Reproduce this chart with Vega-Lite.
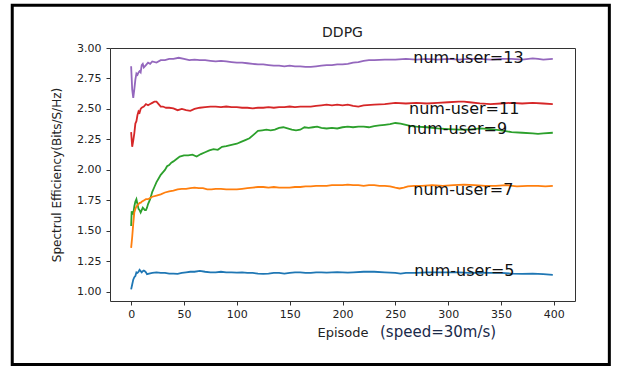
{
  "$schema": "https://vega.github.io/schema/vega-lite/v6.json",
  "width": 465,
  "height": 253,
  "autosize": {"type": "none"},
  "padding": {"left": 110, "top": 48, "right": 42, "bottom": 69},
  "background": "white",
  "config": {
    "view": {"stroke": "#333", "strokeWidth": 1},
    "font": "DejaVu Sans",
    "axis": {"grid": false, "domain": false, "tickColor": "#333", "tickSize": 4, "labelColor": "#222", "labelFontSize": 11, "labelFont": "DejaVu Sans", "titleFont": "DejaVu Sans", "titleFontWeight": "normal", "titleColor": "#222", "labelPadding": 3}
  },
  "datasets": {
    "lines": [
      {"e":0,"v":2.85,"s":"13"},{"e":1,"v":2.66,"s":"13"},{"e":2,"v":2.59,"s":"13"},{"e":3,"v":2.66,"s":"13"},{"e":4,"v":2.74,"s":"13"},{"e":5,"v":2.79,"s":"13"},{"e":6,"v":2.78,"s":"13"},{"e":7,"v":2.8,"s":"13"},{"e":8,"v":2.81,"s":"13"},{"e":9,"v":2.8,"s":"13"},{"e":10,"v":2.86,"s":"13"},{"e":11,"v":2.87,"s":"13"},{"e":12,"v":2.84,"s":"13"},{"e":14,"v":2.86,"s":"13"},{"e":16,"v":2.88,"s":"13"},{"e":18,"v":2.87,"s":"13"},{"e":20,"v":2.89,"s":"13"},{"e":24,"v":2.88,"s":"13"},{"e":28,"v":2.9,"s":"13"},{"e":32,"v":2.9,"s":"13"},{"e":36,"v":2.91,"s":"13"},{"e":40,"v":2.91,"s":"13"},{"e":45,"v":2.92,"s":"13"},{"e":50,"v":2.91,"s":"13"},{"e":55,"v":2.9,"s":"13"},{"e":60,"v":2.905,"s":"13"},{"e":65,"v":2.9,"s":"13"},{"e":70,"v":2.9,"s":"13"},{"e":75,"v":2.895,"s":"13"},{"e":80,"v":2.89,"s":"13"},{"e":85,"v":2.895,"s":"13"},{"e":90,"v":2.89,"s":"13"},{"e":95,"v":2.885,"s":"13"},{"e":100,"v":2.88,"s":"13"},{"e":105,"v":2.88,"s":"13"},{"e":110,"v":2.875,"s":"13"},{"e":115,"v":2.87,"s":"13"},{"e":120,"v":2.865,"s":"13"},{"e":125,"v":2.865,"s":"13"},{"e":130,"v":2.86,"s":"13"},{"e":135,"v":2.855,"s":"13"},{"e":140,"v":2.855,"s":"13"},{"e":145,"v":2.85,"s":"13"},{"e":150,"v":2.855,"s":"13"},{"e":155,"v":2.85,"s":"13"},{"e":160,"v":2.85,"s":"13"},{"e":165,"v":2.845,"s":"13"},{"e":170,"v":2.845,"s":"13"},{"e":175,"v":2.85,"s":"13"},{"e":180,"v":2.855,"s":"13"},{"e":185,"v":2.86,"s":"13"},{"e":190,"v":2.86,"s":"13"},{"e":195,"v":2.865,"s":"13"},{"e":200,"v":2.865,"s":"13"},{"e":205,"v":2.87,"s":"13"},{"e":210,"v":2.88,"s":"13"},{"e":215,"v":2.885,"s":"13"},{"e":220,"v":2.895,"s":"13"},{"e":225,"v":2.9,"s":"13"},{"e":230,"v":2.9,"s":"13"},{"e":240,"v":2.905,"s":"13"},{"e":250,"v":2.905,"s":"13"},{"e":260,"v":2.91,"s":"13"},{"e":270,"v":2.905,"s":"13"},{"e":280,"v":2.91,"s":"13"},{"e":290,"v":2.905,"s":"13"},{"e":300,"v":2.91,"s":"13"},{"e":310,"v":2.905,"s":"13"},{"e":320,"v":2.91,"s":"13"},{"e":330,"v":2.91,"s":"13"},{"e":340,"v":2.905,"s":"13"},{"e":350,"v":2.91,"s":"13"},{"e":360,"v":2.91,"s":"13"},{"e":370,"v":2.905,"s":"13"},{"e":380,"v":2.915,"s":"13"},{"e":385,"v":2.91,"s":"13"},{"e":390,"v":2.905,"s":"13"},{"e":399,"v":2.91,"s":"13"},

      {"e":0,"v":2.31,"s":"11"},{"e":1,"v":2.19,"s":"11"},{"e":2,"v":2.24,"s":"11"},{"e":3,"v":2.3,"s":"11"},{"e":4,"v":2.38,"s":"11"},{"e":5,"v":2.4,"s":"11"},{"e":6,"v":2.45,"s":"11"},{"e":7,"v":2.48,"s":"11"},{"e":8,"v":2.47,"s":"11"},{"e":9,"v":2.5,"s":"11"},{"e":10,"v":2.51,"s":"11"},{"e":12,"v":2.52,"s":"11"},{"e":14,"v":2.54,"s":"11"},{"e":16,"v":2.53,"s":"11"},{"e":18,"v":2.54,"s":"11"},{"e":20,"v":2.55,"s":"11"},{"e":22,"v":2.56,"s":"11"},{"e":24,"v":2.56,"s":"11"},{"e":26,"v":2.54,"s":"11"},{"e":28,"v":2.52,"s":"11"},{"e":30,"v":2.52,"s":"11"},{"e":33,"v":2.51,"s":"11"},{"e":36,"v":2.51,"s":"11"},{"e":40,"v":2.505,"s":"11"},{"e":44,"v":2.49,"s":"11"},{"e":48,"v":2.5,"s":"11"},{"e":52,"v":2.49,"s":"11"},{"e":56,"v":2.485,"s":"11"},{"e":60,"v":2.5,"s":"11"},{"e":65,"v":2.51,"s":"11"},{"e":70,"v":2.515,"s":"11"},{"e":75,"v":2.52,"s":"11"},{"e":80,"v":2.52,"s":"11"},{"e":85,"v":2.515,"s":"11"},{"e":90,"v":2.52,"s":"11"},{"e":95,"v":2.515,"s":"11"},{"e":100,"v":2.515,"s":"11"},{"e":105,"v":2.51,"s":"11"},{"e":110,"v":2.51,"s":"11"},{"e":115,"v":2.505,"s":"11"},{"e":120,"v":2.51,"s":"11"},{"e":125,"v":2.51,"s":"11"},{"e":130,"v":2.515,"s":"11"},{"e":135,"v":2.51,"s":"11"},{"e":140,"v":2.515,"s":"11"},{"e":145,"v":2.515,"s":"11"},{"e":150,"v":2.52,"s":"11"},{"e":155,"v":2.515,"s":"11"},{"e":160,"v":2.52,"s":"11"},{"e":165,"v":2.52,"s":"11"},{"e":170,"v":2.52,"s":"11"},{"e":175,"v":2.525,"s":"11"},{"e":180,"v":2.53,"s":"11"},{"e":185,"v":2.535,"s":"11"},{"e":190,"v":2.53,"s":"11"},{"e":195,"v":2.535,"s":"11"},{"e":200,"v":2.53,"s":"11"},{"e":205,"v":2.535,"s":"11"},{"e":210,"v":2.525,"s":"11"},{"e":215,"v":2.52,"s":"11"},{"e":220,"v":2.53,"s":"11"},{"e":230,"v":2.535,"s":"11"},{"e":240,"v":2.54,"s":"11"},{"e":250,"v":2.55,"s":"11"},{"e":260,"v":2.545,"s":"11"},{"e":270,"v":2.55,"s":"11"},{"e":280,"v":2.545,"s":"11"},{"e":290,"v":2.55,"s":"11"},{"e":300,"v":2.555,"s":"11"},{"e":310,"v":2.56,"s":"11"},{"e":315,"v":2.56,"s":"11"},{"e":320,"v":2.555,"s":"11"},{"e":330,"v":2.545,"s":"11"},{"e":340,"v":2.54,"s":"11"},{"e":350,"v":2.545,"s":"11"},{"e":360,"v":2.55,"s":"11"},{"e":370,"v":2.545,"s":"11"},{"e":380,"v":2.55,"s":"11"},{"e":390,"v":2.545,"s":"11"},{"e":399,"v":2.54,"s":"11"},

      {"e":0,"v":1.54,"s":"9"},{"e":0.5,"v":1.66,"s":"9"},{"e":1,"v":1.65,"s":"9"},{"e":2,"v":1.64,"s":"9"},{"e":3,"v":1.7,"s":"9"},{"e":4,"v":1.74,"s":"9"},{"e":5,"v":1.76,"s":"9"},{"e":6,"v":1.72,"s":"9"},{"e":7,"v":1.68,"s":"9"},{"e":8,"v":1.67,"s":"9"},{"e":9,"v":1.65,"s":"9"},{"e":10,"v":1.67,"s":"9"},{"e":11,"v":1.69,"s":"9"},{"e":12,"v":1.68,"s":"9"},{"e":13,"v":1.67,"s":"9"},{"e":14,"v":1.67,"s":"9"},{"e":15,"v":1.69,"s":"9"},{"e":16,"v":1.72,"s":"9"},{"e":18,"v":1.76,"s":"9"},{"e":20,"v":1.82,"s":"9"},{"e":22,"v":1.86,"s":"9"},{"e":24,"v":1.9,"s":"9"},{"e":26,"v":1.93,"s":"9"},{"e":28,"v":1.96,"s":"9"},{"e":30,"v":1.98,"s":"9"},{"e":32,"v":2.0,"s":"9"},{"e":34,"v":2.03,"s":"9"},{"e":36,"v":2.04,"s":"9"},{"e":38,"v":2.06,"s":"9"},{"e":40,"v":2.07,"s":"9"},{"e":43,"v":2.09,"s":"9"},{"e":46,"v":2.11,"s":"9"},{"e":50,"v":2.12,"s":"9"},{"e":54,"v":2.12,"s":"9"},{"e":58,"v":2.125,"s":"9"},{"e":62,"v":2.11,"s":"9"},{"e":66,"v":2.13,"s":"9"},{"e":70,"v":2.145,"s":"9"},{"e":74,"v":2.16,"s":"9"},{"e":78,"v":2.17,"s":"9"},{"e":82,"v":2.165,"s":"9"},{"e":86,"v":2.19,"s":"9"},{"e":90,"v":2.195,"s":"9"},{"e":95,"v":2.205,"s":"9"},{"e":100,"v":2.215,"s":"9"},{"e":104,"v":2.23,"s":"9"},{"e":108,"v":2.245,"s":"9"},{"e":112,"v":2.26,"s":"9"},{"e":116,"v":2.29,"s":"9"},{"e":120,"v":2.32,"s":"9"},{"e":124,"v":2.325,"s":"9"},{"e":128,"v":2.33,"s":"9"},{"e":132,"v":2.325,"s":"9"},{"e":136,"v":2.33,"s":"9"},{"e":140,"v":2.345,"s":"9"},{"e":144,"v":2.35,"s":"9"},{"e":148,"v":2.34,"s":"9"},{"e":152,"v":2.33,"s":"9"},{"e":156,"v":2.325,"s":"9"},{"e":160,"v":2.33,"s":"9"},{"e":164,"v":2.35,"s":"9"},{"e":168,"v":2.345,"s":"9"},{"e":172,"v":2.35,"s":"9"},{"e":176,"v":2.355,"s":"9"},{"e":180,"v":2.345,"s":"9"},{"e":185,"v":2.34,"s":"9"},{"e":190,"v":2.345,"s":"9"},{"e":195,"v":2.34,"s":"9"},{"e":200,"v":2.35,"s":"9"},{"e":205,"v":2.355,"s":"9"},{"e":210,"v":2.35,"s":"9"},{"e":215,"v":2.355,"s":"9"},{"e":220,"v":2.355,"s":"9"},{"e":225,"v":2.35,"s":"9"},{"e":230,"v":2.36,"s":"9"},{"e":235,"v":2.365,"s":"9"},{"e":240,"v":2.37,"s":"9"},{"e":245,"v":2.375,"s":"9"},{"e":250,"v":2.385,"s":"9"},{"e":255,"v":2.38,"s":"9"},{"e":260,"v":2.37,"s":"9"},{"e":265,"v":2.36,"s":"9"},{"e":270,"v":2.355,"s":"9"},{"e":280,"v":2.35,"s":"9"},{"e":290,"v":2.34,"s":"9"},{"e":300,"v":2.335,"s":"9"},{"e":310,"v":2.33,"s":"9"},{"e":320,"v":2.33,"s":"9"},{"e":330,"v":2.34,"s":"9"},{"e":340,"v":2.335,"s":"9"},{"e":350,"v":2.325,"s":"9"},{"e":360,"v":2.31,"s":"9"},{"e":370,"v":2.305,"s":"9"},{"e":380,"v":2.3,"s":"9"},{"e":385,"v":2.295,"s":"9"},{"e":390,"v":2.3,"s":"9"},{"e":399,"v":2.305,"s":"9"},

      {"e":0,"v":1.36,"s":"7"},{"e":1,"v":1.45,"s":"7"},{"e":2,"v":1.56,"s":"7"},{"e":3,"v":1.65,"s":"7"},{"e":4,"v":1.68,"s":"7"},{"e":5,"v":1.7,"s":"7"},{"e":6,"v":1.71,"s":"7"},{"e":7,"v":1.72,"s":"7"},{"e":8,"v":1.73,"s":"7"},{"e":9,"v":1.73,"s":"7"},{"e":10,"v":1.74,"s":"7"},{"e":12,"v":1.75,"s":"7"},{"e":14,"v":1.76,"s":"7"},{"e":16,"v":1.76,"s":"7"},{"e":18,"v":1.77,"s":"7"},{"e":20,"v":1.78,"s":"7"},{"e":24,"v":1.79,"s":"7"},{"e":28,"v":1.8,"s":"7"},{"e":32,"v":1.815,"s":"7"},{"e":36,"v":1.825,"s":"7"},{"e":40,"v":1.83,"s":"7"},{"e":44,"v":1.84,"s":"7"},{"e":48,"v":1.845,"s":"7"},{"e":52,"v":1.845,"s":"7"},{"e":56,"v":1.85,"s":"7"},{"e":60,"v":1.855,"s":"7"},{"e":64,"v":1.85,"s":"7"},{"e":68,"v":1.85,"s":"7"},{"e":72,"v":1.84,"s":"7"},{"e":76,"v":1.84,"s":"7"},{"e":80,"v":1.845,"s":"7"},{"e":85,"v":1.845,"s":"7"},{"e":90,"v":1.84,"s":"7"},{"e":95,"v":1.84,"s":"7"},{"e":100,"v":1.84,"s":"7"},{"e":105,"v":1.845,"s":"7"},{"e":110,"v":1.85,"s":"7"},{"e":115,"v":1.855,"s":"7"},{"e":120,"v":1.86,"s":"7"},{"e":125,"v":1.86,"s":"7"},{"e":130,"v":1.855,"s":"7"},{"e":135,"v":1.86,"s":"7"},{"e":140,"v":1.855,"s":"7"},{"e":145,"v":1.855,"s":"7"},{"e":150,"v":1.855,"s":"7"},{"e":155,"v":1.86,"s":"7"},{"e":160,"v":1.86,"s":"7"},{"e":165,"v":1.865,"s":"7"},{"e":170,"v":1.865,"s":"7"},{"e":175,"v":1.87,"s":"7"},{"e":180,"v":1.87,"s":"7"},{"e":185,"v":1.87,"s":"7"},{"e":190,"v":1.875,"s":"7"},{"e":195,"v":1.875,"s":"7"},{"e":200,"v":1.875,"s":"7"},{"e":205,"v":1.88,"s":"7"},{"e":210,"v":1.875,"s":"7"},{"e":215,"v":1.875,"s":"7"},{"e":220,"v":1.87,"s":"7"},{"e":225,"v":1.875,"s":"7"},{"e":230,"v":1.875,"s":"7"},{"e":235,"v":1.87,"s":"7"},{"e":240,"v":1.87,"s":"7"},{"e":245,"v":1.865,"s":"7"},{"e":250,"v":1.855,"s":"7"},{"e":254,"v":1.848,"s":"7"},{"e":258,"v":1.855,"s":"7"},{"e":262,"v":1.865,"s":"7"},{"e":268,"v":1.87,"s":"7"},{"e":275,"v":1.87,"s":"7"},{"e":285,"v":1.875,"s":"7"},{"e":295,"v":1.87,"s":"7"},{"e":305,"v":1.875,"s":"7"},{"e":315,"v":1.88,"s":"7"},{"e":325,"v":1.875,"s":"7"},{"e":335,"v":1.87,"s":"7"},{"e":345,"v":1.87,"s":"7"},{"e":355,"v":1.875,"s":"7"},{"e":365,"v":1.865,"s":"7"},{"e":375,"v":1.87,"s":"7"},{"e":385,"v":1.87,"s":"7"},{"e":392,"v":1.865,"s":"7"},{"e":399,"v":1.87,"s":"7"},

      {"e":0,"v":1.02,"s":"5"},{"e":1,"v":1.06,"s":"5"},{"e":2,"v":1.1,"s":"5"},{"e":3,"v":1.12,"s":"5"},{"e":4,"v":1.13,"s":"5"},{"e":5,"v":1.16,"s":"5"},{"e":6,"v":1.155,"s":"5"},{"e":7,"v":1.165,"s":"5"},{"e":8,"v":1.18,"s":"5"},{"e":9,"v":1.17,"s":"5"},{"e":10,"v":1.16,"s":"5"},{"e":11,"v":1.17,"s":"5"},{"e":12,"v":1.175,"s":"5"},{"e":13,"v":1.17,"s":"5"},{"e":14,"v":1.16,"s":"5"},{"e":15,"v":1.145,"s":"5"},{"e":17,"v":1.15,"s":"5"},{"e":20,"v":1.155,"s":"5"},{"e":24,"v":1.16,"s":"5"},{"e":28,"v":1.155,"s":"5"},{"e":32,"v":1.155,"s":"5"},{"e":36,"v":1.15,"s":"5"},{"e":40,"v":1.15,"s":"5"},{"e":44,"v":1.148,"s":"5"},{"e":48,"v":1.155,"s":"5"},{"e":52,"v":1.16,"s":"5"},{"e":56,"v":1.165,"s":"5"},{"e":60,"v":1.165,"s":"5"},{"e":65,"v":1.172,"s":"5"},{"e":70,"v":1.165,"s":"5"},{"e":75,"v":1.16,"s":"5"},{"e":80,"v":1.16,"s":"5"},{"e":85,"v":1.165,"s":"5"},{"e":90,"v":1.16,"s":"5"},{"e":95,"v":1.16,"s":"5"},{"e":100,"v":1.158,"s":"5"},{"e":105,"v":1.16,"s":"5"},{"e":110,"v":1.155,"s":"5"},{"e":115,"v":1.155,"s":"5"},{"e":120,"v":1.15,"s":"5"},{"e":125,"v":1.148,"s":"5"},{"e":130,"v":1.15,"s":"5"},{"e":135,"v":1.155,"s":"5"},{"e":140,"v":1.155,"s":"5"},{"e":145,"v":1.15,"s":"5"},{"e":150,"v":1.155,"s":"5"},{"e":155,"v":1.16,"s":"5"},{"e":160,"v":1.16,"s":"5"},{"e":165,"v":1.155,"s":"5"},{"e":170,"v":1.155,"s":"5"},{"e":175,"v":1.16,"s":"5"},{"e":180,"v":1.16,"s":"5"},{"e":185,"v":1.158,"s":"5"},{"e":190,"v":1.16,"s":"5"},{"e":195,"v":1.162,"s":"5"},{"e":200,"v":1.16,"s":"5"},{"e":205,"v":1.158,"s":"5"},{"e":210,"v":1.16,"s":"5"},{"e":220,"v":1.165,"s":"5"},{"e":230,"v":1.165,"s":"5"},{"e":240,"v":1.16,"s":"5"},{"e":250,"v":1.155,"s":"5"},{"e":255,"v":1.15,"s":"5"},{"e":260,"v":1.155,"s":"5"},{"e":270,"v":1.155,"s":"5"},{"e":280,"v":1.16,"s":"5"},{"e":290,"v":1.16,"s":"5"},{"e":300,"v":1.16,"s":"5"},{"e":310,"v":1.16,"s":"5"},{"e":320,"v":1.155,"s":"5"},{"e":330,"v":1.158,"s":"5"},{"e":340,"v":1.155,"s":"5"},{"e":350,"v":1.155,"s":"5"},{"e":360,"v":1.15,"s":"5"},{"e":370,"v":1.148,"s":"5"},{"e":380,"v":1.15,"s":"5"},{"e":390,"v":1.145,"s":"5"},{"e":399,"v":1.14,"s":"5"}
    ],
    "notes": [
      {"e":267,"v":2.918,"t":"num-user=13"},
      {"e":263,"v":2.5,"t":"num-user=11"},
      {"e":261,"v":2.337,"t":"num-user=9"},
      {"e":267,"v":1.835,"t":"num-user=7"},
      {"e":268,"v":1.167,"t":"num-user=5"}
    ]
  },
  "layer": [
    {
      "data": {"name": "lines"},
      "mark": {"type": "line", "strokeWidth": 1.8, "interpolate": "linear"},
      "encoding": {
        "x": {"field": "e", "type": "quantitative", "scale": {"domain": [-20, 420], "nice": false, "zero": false},
              "axis": {"values": [0, 50, 100, 150, 200, 250, 300, 350, 400], "title": "Episode", "titleFontSize": 13, "titlePadding": 7}},
        "y": {"field": "v", "type": "quantitative", "scale": {"domain": [0.925, 3.0], "nice": false, "zero": false},
              "axis": {"values": [1.0, 1.25, 1.5, 1.75, 2.0, 2.25, 2.5, 2.75, 3.0], "format": ".2f", "labelPadding": 5, "title": "Spectrul Efficiency(Bits/S/Hz)", "titleFontSize": 12, "titlePadding": 13}},
        "color": {"field": "s", "type": "nominal", "legend": null,
                  "scale": {"domain": ["5", "7", "9", "11", "13"], "range": ["#1f77b4", "#ff7f0e", "#2ca02c", "#d62728", "#9467bd"]}},
        "order": {"field": "e", "type": "quantitative"}
      }
    },
    {
      "data": {"values": [{}]},
      "mark": {"type": "rect", "fill": null, "stroke": "black", "strokeWidth": 3, "clip": false},
      "encoding": {
        "x": {"datum": -112.5, "type": "quantitative", "scale": {"domain": [-20, 420], "nice": false, "zero": false},
              "axis": {"values": [0, 50, 100, 150, 200, 250, 300, 350, 400], "title": "Episode", "titleFontSize": 13, "titlePadding": 7}},
        "x2": {"datum": 452.5},
        "y": {"datum": 3.35, "type": "quantitative", "scale": {"domain": [0.925, 3.0], "nice": false, "zero": false},
              "axis": {"values": [1.0, 1.25, 1.5, 1.75, 2.0, 2.25, 2.5, 2.75, 3.0], "format": ".2f", "labelPadding": 5, "title": "Spectrul Efficiency(Bits/S/Hz)", "titleFontSize": 12, "titlePadding": 13}},
        "y2": {"datum": 0.405}
      }
    },
    {
      "data": {"name": "notes"},
      "mark": {"type": "text", "align": "left", "baseline": "middle", "fontSize": 16, "font": "DejaVu Sans", "color": "#111"},
      "encoding": {
        "x": {"field": "e", "type": "quantitative",
              "axis": {"values": [0, 50, 100, 150, 200, 250, 300, 350, 400], "title": "Episode", "titleFontSize": 13, "titlePadding": 7}},
        "y": {"field": "v", "type": "quantitative",
              "axis": {"values": [1.0, 1.25, 1.5, 1.75, 2.0, 2.25, 2.5, 2.75, 3.0], "format": ".2f", "labelPadding": 5, "title": "Spectrul Efficiency(Bits/S/Hz)", "titleFontSize": 12, "titlePadding": 13}},
        "text": {"field": "t"}
      }
    },
    {
      "data": {"values": [{"t": "DDPG"}]},
      "mark": {"type": "text", "align": "center", "baseline": "middle", "fontSize": 14, "font": "DejaVu Sans", "color": "#222", "clip": false},
      "encoding": {
        "x": {"datum": 200, "type": "quantitative",
              "axis": {"values": [0, 50, 100, 150, 200, 250, 300, 350, 400], "title": "Episode", "titleFontSize": 13, "titlePadding": 7}},
        "y": {"datum": 3.125, "type": "quantitative",
              "axis": {"values": [1.0, 1.25, 1.5, 1.75, 2.0, 2.25, 2.5, 2.75, 3.0], "format": ".2f", "labelPadding": 5, "title": "Spectrul Efficiency(Bits/S/Hz)", "titleFontSize": 12, "titlePadding": 13}},
        "text": {"field": "t"}
      }
    },
    {
      "data": {"values": [{"t": "(speed=30m/s)"}]},
      "mark": {"type": "text", "align": "left", "baseline": "middle", "fontSize": 15, "font": "DejaVu Sans", "color": "#1a2a4a", "clip": false},
      "encoding": {
        "x": {"datum": 235.5, "type": "quantitative",
              "axis": {"values": [0, 50, 100, 150, 200, 250, 300, 350, 400], "title": "Episode", "titleFontSize": 13, "titlePadding": 7}},
        "y": {"datum": 0.67, "type": "quantitative",
              "axis": {"values": [1.0, 1.25, 1.5, 1.75, 2.0, 2.25, 2.5, 2.75, 3.0], "format": ".2f", "labelPadding": 5, "title": "Spectrul Efficiency(Bits/S/Hz)", "titleFontSize": 12, "titlePadding": 13}},
        "text": {"field": "t"}
      }
    }
  ]
}
